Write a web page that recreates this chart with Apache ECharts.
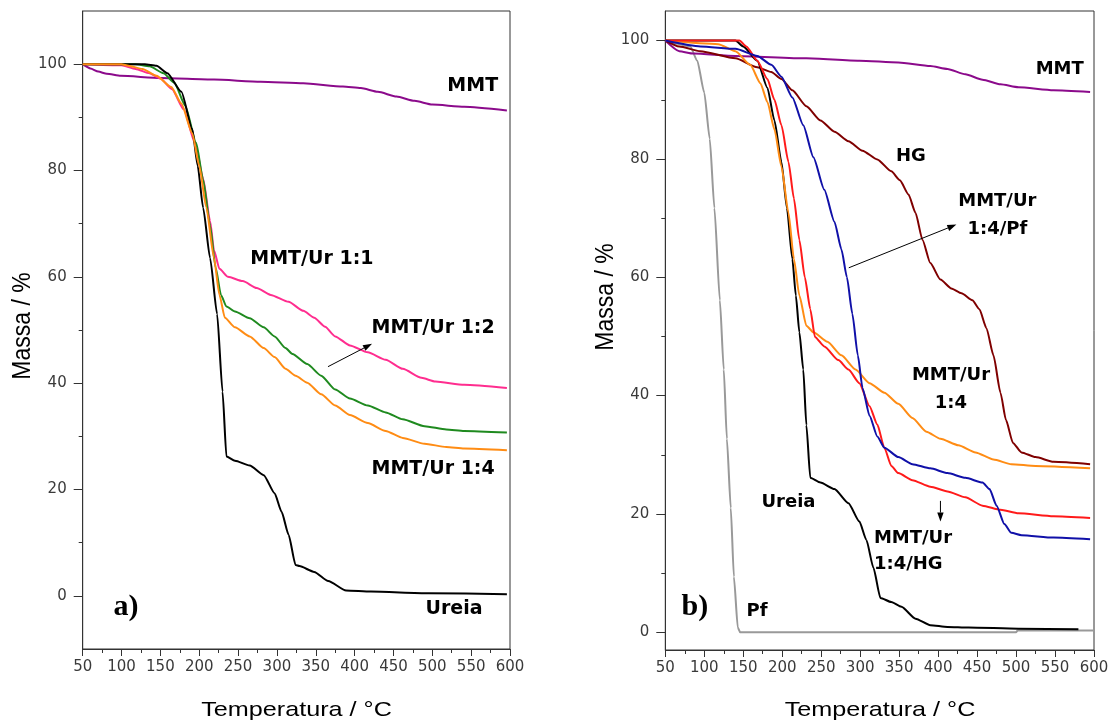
<!DOCTYPE html>
<html>
<head>
<meta charset="utf-8">
<script src="https://cdn.jsdelivr.net/npm/echarts@6/dist/echarts.min.js"></script>
<style>
html,body{margin:0;padding:0;background:#fff;}
#c{width:1113px;height:722px;}
</style>
</head>
<body>
<div id="c"></div>
<script>
// ---------- data (temperature °C, mass %) ----------
const xTickLabels = [50,100,150,200,250,300,350,400,450,500,550,600];
const yTickLabels = [0,20,40,60,80,100];
const yMinorTicks = [10,30,50,70,90];

// panel a)
const ureiaA = [[50,100],[130,100],[145,99.7],[159,98.3],[177,94.8],[191,87.8],[198,80.9],[205,73],[214,63.5],[223,53],[230,38.4],[235,26.2],[246,25.4],[265,24.5],[283,22.7],[297,19.3],[306,15.8],[315,11.5],[324,5.8],[329,5.6],[348,4.5],[366,2.8],[389,1],[421,0.8],[495,0.5],[596,0.3]];
const mmtA = [[50,100],[60,99.2],[70,98.6],[81,98.2],[99,97.8],[150,97.4],[219,97.1],[279,96.7],[334,96.4],[385,95.8],[408,95.5],[430,94.8],[454,93.9],[477,93.1],[500,92.4],[541,92],[596,91.3]];
const ur11A = [[50,100],[100,99.8],[118,99.1],[136,98.3],[150,97.3],[165,95.3],[180,91.5],[195,85],[205,78.5],[214,70.5],[219,65],[226,61.5],[237,60],[256,59.2],[274,57.9],[292,56.6],[315,55.3],[334,53.6],[348,52.3],[362,50.6],[375,48.8],[394,47.1],[417,45.8],[440,44.4],[462,42.7],[486,41],[504,40.3],[541,39.7],[596,39.1]];
const ur12A = [[50,100],[118,100],[136,99.6],[154,98.3],[168,96.5],[182,92.2],[196,85.2],[205,78.3],[214,69.6],[221,61.8],[228,56.6],[235,54.4],[246,53.5],[265,52.2],[283,50.5],[297,48.8],[311,46.6],[320,45.5],[339,43.6],[357,41.4],[375,38.8],[394,37.1],[417,35.8],[440,34.5],[462,33.2],[490,31.9],[518,31.3],[541,31],[596,30.7]];
const ur14A = [[50,100],[100,100],[109,99.7],[127,99.1],[145,97.8],[164,95.7],[177,92.6],[191,87],[200,80.9],[209,73.1],[219,63.5],[226,56.6],[233,52.3],[246,50.5],[265,48.8],[283,46.6],[297,44.9],[311,42.7],[324,41.4],[339,40.1],[357,37.9],[375,35.8],[394,34],[417,32.5],[440,31],[462,29.7],[490,28.6],[518,28],[541,27.7],[596,27.4]];

// panel b)
const pfB = [[50,100],[68,99.4],[82,99],[91,96.6],[100,91.2],[107,83.4],[113,71.7],[120,56.1],[125,44.4],[129,32.7],[134,21],[138,9.4],[143,0.8],[146,0],[500,0],[502,0.3],[600,0.3]];
const ureiaB = [[50,100],[140,100],[150,99],[168,96.6],[181,92],[190,86.5],[199,79.5],[206,71.7],[213,63.1],[217.5,56.9],[222,50.7],[227,44.4],[231,35],[236,26.1],[249,25.3],[267,24.2],[285,21.8],[299,18.7],[308,15.6],[317,10.9],[326,5.8],[340,5.1],[353,4.3],[371,2.3],[390,1.2],[412,0.9],[439,0.8],[503,0.6],[580,0.5]];
const mmtB = [[50,100],[68,98.2],[86,97.8],[140,97.4],[231,97],[299,96.6],[349,96.3],[390,95.7],[412,95.2],[435,94.3],[457,93.4],[480,92.6],[503,92.1],[548,91.6],[595,91.3]];
const hgB = [[50,100],[68,99],[95,98.2],[140,97],[168,95.5],[186,94.7],[199,93.5],[213,91.6],[231,88.9],[249,86.5],[267,84.6],[285,83],[303,81.4],[322,79.9],[340,77.9],[351,76.4],[362,74],[371,70.9],[380,66.3],[390,62.4],[403,59.6],[417,58.1],[430,57.3],[444,56.1],[453,54.6],[462,51.4],[471,46.8],[480,40.5],[487,35.9],[496,32],[507,30.4],[525,29.6],[548,28.8],[595,28.4]];
const ur14PfB = [[50,100],[95,99],[140,98.6],[168,97.4],[186,95.9],[199,93.9],[213,90.4],[227,85.7],[240,80.3],[254,74.8],[267,69.4],[276,64.7],[283,60],[290,53.8],[297,46.8],[303,41.3],[312,36.6],[322,33.1],[331,31.2],[349,29.6],[367,28.4],[390,27.7],[412,26.9],[435,26.1],[457,25.3],[466,24.2],[475,21.4],[485,18.3],[494,16.8],[507,16.4],[548,16],[595,15.7]];
const ur14HgB = [[50,100],[145,100],[154,99],[168,96.6],[181,93.5],[190,90],[199,85.7],[208,79.5],[215,73.3],[222,66.3],[229,60],[236,54.6],[242,49.9],[254,48.3],[272,46],[285,44.4],[299,42.1],[312,38.2],[322,35.1],[331,31.2],[340,28.1],[349,26.9],[367,25.7],[390,24.6],[412,23.8],[435,22.8],[457,21.4],[480,20.7],[503,20.1],[548,19.6],[595,19.3]];
const ur14B = [[50,100],[118,99.4],[140,98.2],[159,95.9],[172,92.8],[181,89.6],[190,85],[199,78.7],[208,70.9],[215,63.1],[222,56.9],[231,51.8],[240,50.7],[258,49.1],[276,46.8],[294,44.4],[312,42.1],[331,40.5],[349,38.6],[367,36.2],[385,33.9],[403,32.7],[426,31.6],[448,30.4],[471,29.2],[494,28.4],[525,28.1],[595,27.7]];

// annotation anchors (data coordinates) and texts
const labelsA = [
  {t:'MMT', at:[552,95.9]},
  {t:'MMT/Ur 1:1', at:[345,63.4]},
  {t:'MMT/Ur 1:2', at:[501,50.4]},
  {t:'MMT/Ur 1:4', at:[501,23.9]},
  {t:'Ureia', at:[528,-2.4]}
];
const labelsB = [
  {t:'MMT', at:[556,95.1]},
  {t:'HG', at:[365,80.5]},
  {t:'MMT/Ur\n1:4/Pf', at:[476,70.4]},
  {t:'MMT/Ur\n1:4', at:[416.5,41.1]},
  {t:'Ureia', at:[208,22]},
  {t:'MMT/Ur\n1:4/HG', at:[367.7,13.7], left:true},
  {t:'Pf', at:[167.6,3.6]}
];
const arrowsA = [[[365.7,43.1],[422.4,47.4]]];
const arrowsB = [[[285.4,61.6],[423.4,68.9]],[[403,22.2],[403,18.7]]];

// ---------- chart ----------
const chart = echarts.init(document.getElementById('c'), null, {renderer:'canvas'});
const AX = '#333';
const labelFont = {fontFamily:'DejaVu Sans', fontSize:15, color:'#3a3a3a'};

function xAxis(grid){
  return {type:'value', gridIndex:grid, min:50, max:600, interval:50,
    axisLine:{show:true, onZero:false, lineStyle:{color:AX, width:1}},
    axisTick:{show:true, inside:false, length:7, lineStyle:{color:AX}},
    minorTick:{show:true, splitNumber:2, length:4, lineStyle:{color:AX}},
    axisLabel:Object.assign({margin:11}, labelFont),
    splitLine:{show:false}, minorSplitLine:{show:false}};
}
function yAxes(grid, min, max){
  return [
    {type:'value', gridIndex:grid, min:min, max:max, position:'left',
      axisLine:{show:true, onZero:false, lineStyle:{color:AX, width:1}},
      axisTick:{show:true, inside:false, length:9, customValues:yTickLabels, lineStyle:{color:AX}},
      axisLabel:Object.assign({margin:16, customValues:yTickLabels}, labelFont),
      splitLine:{show:false}},
    {type:'value', gridIndex:grid, min:min, max:max, position:'left',
      axisLine:{show:false},
      axisTick:{show:true, inside:false, length:4, customValues:yMinorTicks, lineStyle:{color:AX}},
      axisLabel:{show:false}, splitLine:{show:false}}
  ];
}
function line(data, color, xi, yi){
  return {type:'line', data:data, xAxisIndex:xi, yAxisIndex:yi,
    showSymbol:false, symbol:'none', smooth:0.2, smoothMonotone:'x',
    lineStyle:{color:color, width:2}, itemStyle:{color:color},
    silent:true, animation:false};
}

const option = {
  backgroundColor:'#fff',
  animation:false,
  grid:[
    {left:82.7, top:11, width:427.3, height:638, show:true, borderColor:'#333', borderWidth:1, backgroundColor:'transparent'},
    {left:665.3, top:11, width:428.7, height:639, show:true, borderColor:'#333', borderWidth:1, backgroundColor:'transparent'}
  ],
  xAxis:[xAxis(0), xAxis(1)],
  yAxis:[].concat(yAxes(0,-10,110), yAxes(1,-3,105)),
  series:[
    line(mmtA,'#8b0a8b',0,0),
    line(ur11A,'#ff2d8f',0,0),
    line(ur12A,'#1f8a1f',0,0),
    line(ureiaA,'#000000',0,0),
    line(ur14A,'#ff8c14',0,0),
    line(pfB,'#999999',1,2),
    line(mmtB,'#8b0a8b',1,2),
    line(hgB,'#7f0000',1,2),
    line(ureiaB,'#000000',1,2),
    line(ur14B,'#ff8c14',1,2),
    line(ur14HgB,'#ff1a1a',1,2),
    line(ur14PfB,'#1010a8',1,2)
  ]
};
chart.setOption(option);

// ---------- texts & arrows ----------
function txt(x, y, text, font, o){
  o = o || {};
  return {type:'text', x:x, y:y, rotation:o.rot||0, scaleX:o.sx||1, scaleY:o.sy||1, silent:true, z:100,
    style:{text:text, font:font, fill:o.fill||'#000', align:o.align||'center', textAlign:o.align||'center',
      verticalAlign:'middle', textVerticalAlign:'middle', lineHeight:o.lh||28}};
}
function arrow(p0, p1){
  const dx = p1[0]-p0[0], dy = p1[1]-p0[1], L = Math.sqrt(dx*dx+dy*dy);
  const ux = dx/L, uy = dy/L, hl = 9, hw = 3.2;
  const bx = p1[0]-ux*hl, by = p1[1]-uy*hl;
  return [
    {type:'line', silent:true, z:100, shape:{x1:p0[0], y1:p0[1], x2:bx, y2:by}, style:{stroke:'#000', lineWidth:1}},
    {type:'polygon', silent:true, z:100, shape:{points:[[p1[0],p1[1]],[bx-uy*hw,by+ux*hw],[bx+uy*hw,by-ux*hw]]}, style:{fill:'#000'}}
  ];
}
const g = [];
const annA = 'bold 19px "DejaVu Sans"';
const annB = 'bold 18px "DejaVu Sans"';
labelsA.forEach(l=>{
  const p = chart.convertToPixel({xAxisIndex:0, yAxisIndex:0}, l.at);
  g.push(txt(p[0], p[1], l.t, annA));
});
labelsB.forEach(l=>{
  const p = chart.convertToPixel({xAxisIndex:1, yAxisIndex:2}, l.at);
  if (l.left) g.push(txt(p[0]-39, p[1], l.t, annB, {align:'left', lh:26}));
  else g.push(txt(p[0], p[1], l.t, annB, {lh:28}));
});
arrowsA.forEach(a=>{
  const p0 = chart.convertToPixel({xAxisIndex:0, yAxisIndex:0}, a[0]);
  const p1 = chart.convertToPixel({xAxisIndex:0, yAxisIndex:0}, a[1]);
  arrow(p0,p1).forEach(e=>g.push(e));
});
arrowsB.forEach(a=>{
  const p0 = chart.convertToPixel({xAxisIndex:1, yAxisIndex:2}, a[0]);
  const p1 = chart.convertToPixel({xAxisIndex:1, yAxisIndex:2}, a[1]);
  arrow(p0,p1).forEach(e=>g.push(e));
});
// panel letters
const pa = chart.convertToPixel({xAxisIndex:0, yAxisIndex:0}, [105.7,-2.1]);
g.push(txt(pa[0], pa[1], 'a)', 'bold 30px "Liberation Serif"'));
const pb = chart.convertToPixel({xAxisIndex:1, yAxisIndex:2}, [88,4.2]);
g.push(txt(pb[0], pb[1], 'b)', 'bold 30px "Liberation Serif"'));
// axis titles
g.push(txt(296.5, 710, 'Temperatura / °C', '21px "Liberation Sans"', {sx:1.2}));
g.push(txt(880, 710, 'Temperatura / °C', '21px "Liberation Sans"', {sx:1.2}));
g.push(txt(23, 326, 'Massa / %', '23px "Liberation Sans"', {rot:Math.PI/2, sy:1.1}));
g.push(txt(606, 297, 'Massa / %', '23px "Liberation Sans"', {rot:Math.PI/2, sy:1.1}));
chart.setOption({graphic:{elements:g}});
</script>
</body>
</html>
